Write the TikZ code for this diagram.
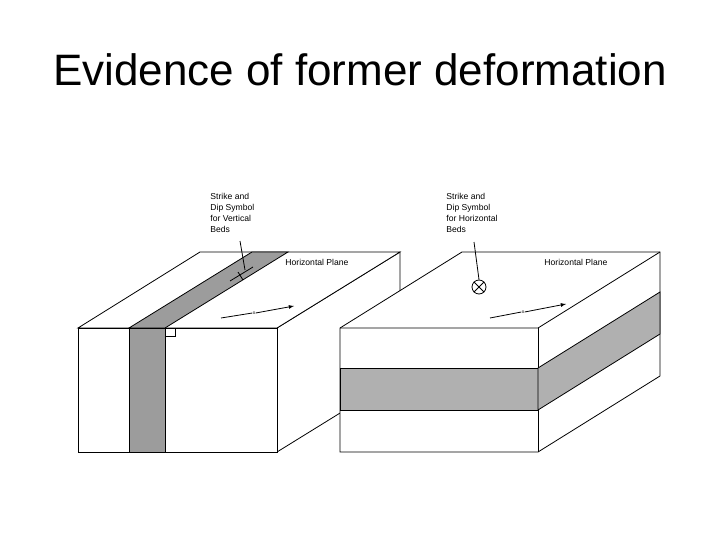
\documentclass[tikz,border=0pt]{standalone}
\usepackage{fontspec}
\setmainfont{Liberation Sans}
\begin{document}
\begin{tikzpicture}[x=1pt,y=-1pt,line width=0.8pt,
  edge/.style={draw=black},
  band/.style={fill=gray!78,draw=black},
  bandl/.style={fill=gray!62,draw=black},
  lbl/.style={font=\fontsize{8.6}{11}\selectfont,align=left,inner sep=0pt},
  arr/.style={-latex}]
\useasboundingbox (0,0) rectangle (720,540);
\node (title) at (360,70) {\fontsize{44}{48}\selectfont Evidence of former deformation};
% left block
\draw[edge,fill=white] (277,328) -- (400,252) -- (400,376) -- (277,452) -- cycle;
\draw[edge,fill=white] (78,328) -- (200,252) -- (400,252) -- (277,328) -- cycle;
\draw[edge,fill=white] (78,328) rectangle (277,452);
\draw[band] (129,328) -- (252,252) -- (288,252) -- (165,328) -- cycle;
\draw[band] (129,328) rectangle (165,452);
\draw[edge] (165,328) rectangle (175,336);
% strike symbol vertical
\draw[edge] (230,281) -- (253,267);
\draw[edge] (238,272) -- (243,280);
% right block
\draw[edge,fill=white] (340,328) -- (462,252) -- (660,252) -- (660,376) -- (538,452) -- (340,452) -- cycle;
\draw[edge] (340,328) -- (538,328) -- (660,252);
\draw[edge] (538,328) -- (538,452);
\draw[bandl] (340,368) rectangle (538,410);
\draw[bandl] (538,368) -- (660,292) -- (660,334) -- (538,410) -- cycle;
% circle symbol
\node[draw,circle,minimum size=14pt,inner sep=0pt] (circ) at (479,287) {};
\draw (circ.north west) -- (circ.south east) (circ.north east) -- (circ.south west);
% labels
\node[lbl,anchor=north west] (l1) at (210,193) {Strike and\\Dip Symbol\\for Vertical\\Beds};
\node[lbl,anchor=north west] (l2) at (446,193) {Strike and\\Dip Symbol\\for Horizontal\\Beds};
\coordinate (s1) at (245,270);
\draw (240,241) -- (s1);
\draw (474,242) -- (circ.north);
\node[lbl,anchor=west] (hp1) at (285,262) {Horizontal Plane};
\node[lbl,anchor=west] (hp2) at (544,262) {Horizontal Plane};
% dip arrows
\node[font=\fontsize{5}{5}\selectfont,inner sep=0pt] (x1) at (254,313) {x};
\draw (221,318) -- (x1.west);
\draw[arr] (x1.east) -- (294,306);
\node[font=\fontsize{5}{5}\selectfont,inner sep=0pt] (x2) at (523,312) {x};
\draw (490,318) -- (x2.west);
\draw[arr] (x2.east) -- (566,304);
\end{tikzpicture}
\end{document}
